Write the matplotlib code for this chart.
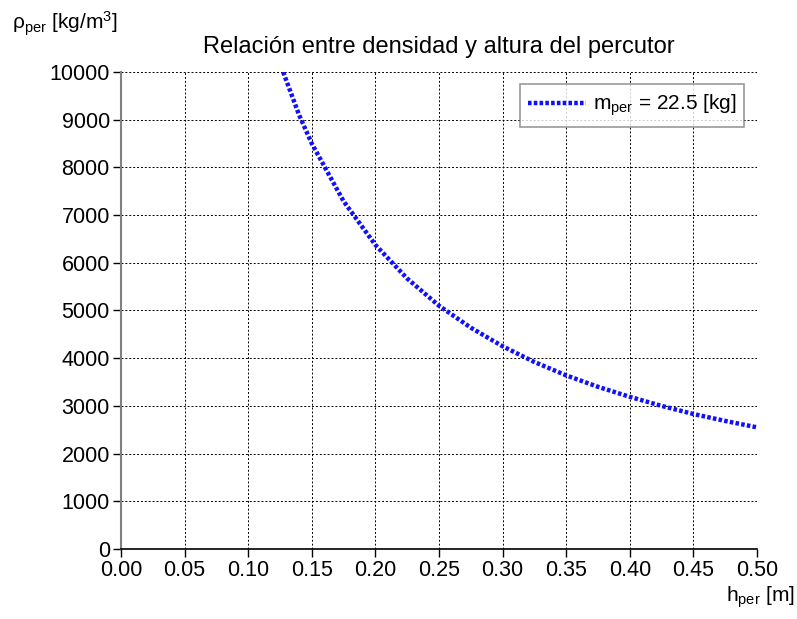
import numpy as np
import matplotlib.pyplot as plt

plt.rcParams["font.family"] = ["Liberation Sans", "DejaVu Sans"]
plt.rcParams["mathtext.fontset"] = "custom"
plt.rcParams["mathtext.rm"] = "Liberation Sans"
plt.rcParams["mathtext.it"] = "Liberation Sans"

# ── Data ─────────────────────────────────────────────────────────────────────
h_per = [0.1275, 0.14, 0.15, 0.175, 0.20, 0.225, 0.25, 0.275, 0.30,
         0.325, 0.35, 0.375, 0.40, 0.425, 0.45, 0.475, 0.50]
rho_per = [10000, 9100, 8500, 7290, 6375, 5670, 5100, 4640, 4250,
           3920, 3640, 3400, 3190, 3000, 2830, 2685, 2550]
x_ticks = [0.00, 0.05, 0.10, 0.15, 0.20, 0.25, 0.30, 0.35, 0.40, 0.45, 0.50]
y_ticks = list(range(0, 10001, 1000))
series_label = r"m$_{\mathrm{per}}$ = 22.5 [kg]"

# ── Figure ───────────────────────────────────────────────────────────────────
fig = plt.figure(figsize=(7.97, 6.19), dpi=100, facecolor="white")
ax = fig.add_axes([0.1518, 0.1131, 0.798, 0.7706])

ax.plot(h_per, rho_per, color="#1010ff", lw=3.2, ls=(0, (0.8, 0.5)),
        label=series_label)

ax.set_xlim(0, 0.5)
ax.set_ylim(0, 10000)
ax.set_xticks(x_ticks)
ax.set_xticklabels([f"{t:.2f}" for t in x_ticks])
ax.set_yticks(y_ticks)
ax.tick_params(labelsize=15.5, direction="out", length=6, width=1, pad=2)
ax.grid(True, color="black", ls=(0, (2, 2)), lw=0.7)
ax.spines[["top", "right"]].set_visible(False)
ax.spines["left"].set_color("#808080")
ax.spines["left"].set_linewidth(1.5)
ax.spines["bottom"].set_linewidth(1.2)

ax.set_title("Relación entre densidad y altura del percutor", fontsize=17, pad=14)
fig.text(0.015, 0.962, r"ρ$_{\mathrm{per}}$ [kg/m$^{3}$]", fontsize=15,
         ha="left", va="center")
fig.text(0.997, 0.035, r"h$_{\mathrm{per}}$ [m]", fontsize=15, ha="right", va="center")

leg = ax.legend(loc="upper right", fontsize=15, handlelength=2.8, frameon=True,
                fancybox=False, edgecolor="#808080", borderaxespad=0.6,
                handletextpad=0.3, borderpad=0.4)
leg.get_frame().set_linewidth(1.2)

fig.savefig("out.png", dpi=100, facecolor="white")
